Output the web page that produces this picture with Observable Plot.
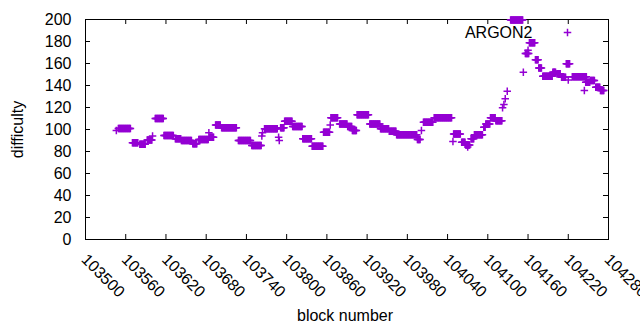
<!DOCTYPE html>
<html><head><meta charset="utf-8">
<script src="https://cdn.jsdelivr.net/npm/d3@7"></script>
<script src="https://cdn.jsdelivr.net/npm/@observablehq/plot@0.6"></script>
<style>body{margin:0;background:#fff;}</style>
</head><body><div id="chart"></div>
<script>
// Difficulty per block, run-length encoded: first block, last block, difficulty
const runStart = [103546,103549,103570,103581,103592,103600,103604,103617,103634,103643,103660,103669,103684,103685,103694,103703,103728,103748,103763,103764,103767,103788,103789,103791,103797,103809,103824,103838,103855,103865,103866,103879,103891,103898,103905,103924,103940,103953,103964,103995,104001,104004,104020,104048,104049,104061,104067,104070,104075,104080,104094,104097,104104,104112,104122,104124,104126,104129,104134,104153,104156,104160,104162,104171,104176,104182,104197,104203,104210,104217,104220,104226,104244,104246,104253,104261,104268];
const runEnd = [103546,103567,103578,103589,103599,103600,103616,103631,103642,103658,103666,103683,103684,103691,103701,103725,103746,103762,103763,103764,103786,103788,103789,103796,103808,103823,103837,103854,103864,103865,103876,103890,103897,103904,103922,103939,103952,103963,103994,103999,104001,104018,104046,104048,104059,104066,104073,104070,104079,104092,104096,104103,104111,104121,104122,104124,104126,104129,104152,104153,104161,104160,104170,104175,104180,104196,104201,104208,104216,104222,104220,104247,104244,104252,104259,104267,104273];
const runValue = [99,100.8,88,86.5,90.5,94,110,94.5,91.5,90,87,91,97,93,104,101.7,90,85.5,94,97,100.6,93,90,101.5,107.5,102.7,91.5,84.8,97.5,104,110.6,105,102.7,99,113.3,105,100.6,98.5,95.2,91,99,106.7,110.6,89,96,88.5,86,84,91.5,95.2,102,105,110.6,108,119.7,122.7,128,134.8,199.5,152,169,172,178.8,163.3,156,148.5,152,150.6,147.5,159.7,145,148,135.5,143,144.5,138.5,135.5];
const xTicks = [103500,103560,103620,103680,103740,103800,103860,103920,103980,104040,104100,104160,104220,104280];
const yTicks = [0,20,40,60,80,100,120,140,160,180,200];
const seriesName = "ARGON2";
const xLabel = "block number";
const yLabel = "difficulty";

const points = runStart.flatMap((s, i) =>
  d3.range(s, runEnd[i] + 1).map(b => ({block: b, difficulty: runValue[i]})));

const plus = {draw(ctx, size) {
  const r = Math.sqrt(size / Math.PI);
  ctx.moveTo(-r, 0); ctx.lineTo(r, 0);
  ctx.moveTo(0, -r); ctx.lineTo(0, r);
}};

const W = 640, H = 330, mL = 85, mR = 32, mT = 19, mB = 91;
const fw = W - mL - mR, fh = H - mT - mB, tk = 5;
const color = "#9400d3";

const chart = Plot.plot({
  width: W, height: H,
  marginLeft: mL, marginRight: mR, marginTop: mT, marginBottom: mB,
  style: {fontFamily: "'Liberation Sans', Arial, sans-serif", fontSize: "16px", color: "#000", background: "#fff", overflow: "visible"},
  x: {domain: [103500, 104280], axis: null},
  y: {domain: [0, 200], axis: null},
  marks: [
    Plot.frame({stroke: "#000", strokeWidth: 1}),
    Plot.ruleX(xTicks, {x: d => d, insetTop: fh - tk, stroke: "#000"}),
    Plot.ruleX(xTicks, {x: d => d, insetBottom: fh - tk, stroke: "#000"}),
    Plot.ruleY(yTicks, {y: d => d, insetRight: fw - tk, stroke: "#000"}),
    Plot.ruleY(yTicks, {y: d => d, insetLeft: fw - tk, stroke: "#000"}),
    Plot.text(yTicks, {y: d => d, text: d => String(d), frameAnchor: "left", textAnchor: "end", dx: -14, fill: "#000"}),
    Plot.text(xTicks, {x: d => d, text: d => String(d), frameAnchor: "bottom", rotate: 45, textAnchor: "start", lineAnchor: "top", dy: 13, dx: 3, fill: "#000"}),
    Plot.text([yLabel], {text: d => d, frameAnchor: "left", rotate: -90, dx: -68, textAnchor: "middle", fill: "#000"}),
    Plot.text([xLabel], {text: d => d, frameAnchor: "bottom", dy: 81, dx: -2, textAnchor: "middle", fill: "#000"}),
    Plot.text([seriesName], {text: d => d, frameAnchor: "top-right", textAnchor: "end", dx: -76, dy: 7, fill: "#000"}),
    Plot.dot([seriesName], {frameAnchor: "top-right", dx: -41, dy: 13, symbol: plus, r: 3.75, stroke: color, fill: "none", strokeWidth: 1.5}),
    Plot.dot(points, {x: "block", y: "difficulty", symbol: plus, r: 3.75, stroke: color, fill: "none", strokeWidth: 1.5})
  ]
});
document.getElementById("chart").appendChild(chart);
</script>
</body></html>
